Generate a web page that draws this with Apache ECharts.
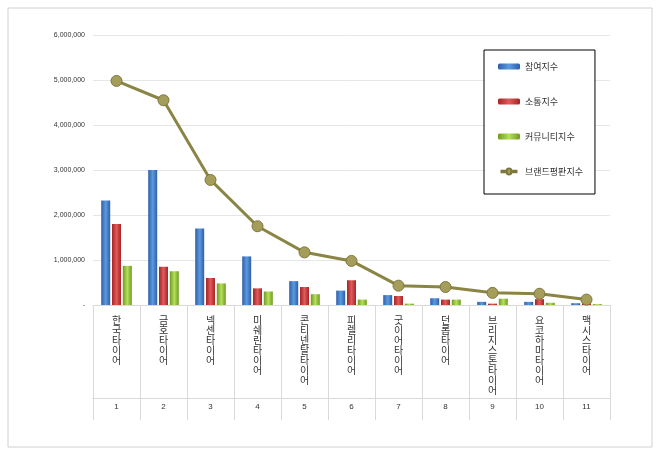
<!DOCTYPE html><html><head><meta charset="utf-8"><script src="https://cdn.jsdelivr.net/npm/echarts@6/dist/echarts.min.js"></script>
<style>body{margin:0}#c{width:660px;height:455px}</style></head><body><div id="c"></div><script>
const categories=['한국타이어','금호타이어','넥센타이어','미쉐린타이어','콘티넨탈타이어','피렐리타이어','굿이어타이어','던롭타이어','브리지스톤타이어','요코하마타이어','맥시스타이어'];
const ranks=['1','2','3','4','5','6','7','8','9','10','11'];
const participation=[2320000,3000000,1700000,1080000,530000,320000,220000,150000,70000,70000,40000];
const communication=[1800000,850000,600000,370000,400000,550000,200000,120000,30000,130000,40000];
const community=[870000,750000,480000,300000,240000,120000,30000,120000,140000,50000,20000];
const brand=[4980000,4550000,2780000,1750000,1170000,980000,430000,400000,270000,250000,120000];
const fmt=v=>v===0?'-':v.toLocaleString('en-US');
const grad=(a,b)=>new echarts.graphic.LinearGradient(0,0,1,0,[{offset:0,color:a},{offset:0.5,color:b},{offset:1,color:a}]);
const chart=echarts.init(document.getElementById('c'));
chart.setOption({
 graphic:[{type:'rect',shape:{x:8,y:8,width:644,height:439},style:{fill:'#fff',stroke:'#d0d0d0',lineWidth:1},z:-10}],
 grid:{left:93,right:50,top:35,bottom:150},
 legend:{orient:'vertical',left:484,top:50,itemGap:26,itemWidth:22,itemHeight:6,backgroundColor:'#fff',borderColor:'#000',borderWidth:1,padding:[12,12,18,14],textStyle:{fontSize:9,color:'#333',fontFamily:'Noto Sans CJK KR'},
  data:['참여지수','소통지수','커뮤니티지수',{name:'브랜드평판지수',icon:'path://M0,45h35a15,15 0 1 1 30,0h35v10h-35a15,15 0 1 1 -30,0h-35z'}]},
 xAxis:[{type:'category',data:categories,axisTick:{show:true,length:115,lineStyle:{color:'#d9d9d9'}},axisLine:{lineStyle:{color:'#d9d9d9'}},
  axisLabel:{interval:0,margin:10,fontSize:10,color:'#333',fontFamily:'Noto Sans CJK KR',formatter:v=>v.split('').join('\n'),lineHeight:10,verticalAlign:'top'}},
  {type:'category',data:ranks,position:'bottom',offset:93,axisLine:{lineStyle:{color:'#d9d9d9'}},axisTick:{show:true,length:22,inside:false,lineStyle:{color:'#d9d9d9'}},axisLabel:{fontSize:8,color:'#333',margin:5}}],
 yAxis:{type:'value',min:0,max:6000000,interval:1000000,axisLabel:{fontSize:7,color:'#333',formatter:fmt},splitLine:{lineStyle:{color:'#e6e6e6'}},axisLine:{show:false},axisTick:{show:false}},
 series:[
  {name:'참여지수',type:'bar',data:participation,barWidth:9,barGap:'20%',itemStyle:{color:grad('#2f5fa8','#5b9ae0')}},
  {name:'소통지수',type:'bar',data:communication,barWidth:9,itemStyle:{color:grad('#a62424','#e05a5a')}},
  {name:'커뮤니티지수',type:'bar',data:community,barWidth:9,itemStyle:{color:grad('#6f9a20','#b5e05a')}},
  {name:'브랜드평판지수',type:'line',data:brand,symbol:'circle',symbolSize:11,lineStyle:{color:'#8b8545',width:3},itemStyle:{color:'#a59d5a',borderColor:'#7d773e',borderWidth:1}}
 ]});
</script></body></html>
